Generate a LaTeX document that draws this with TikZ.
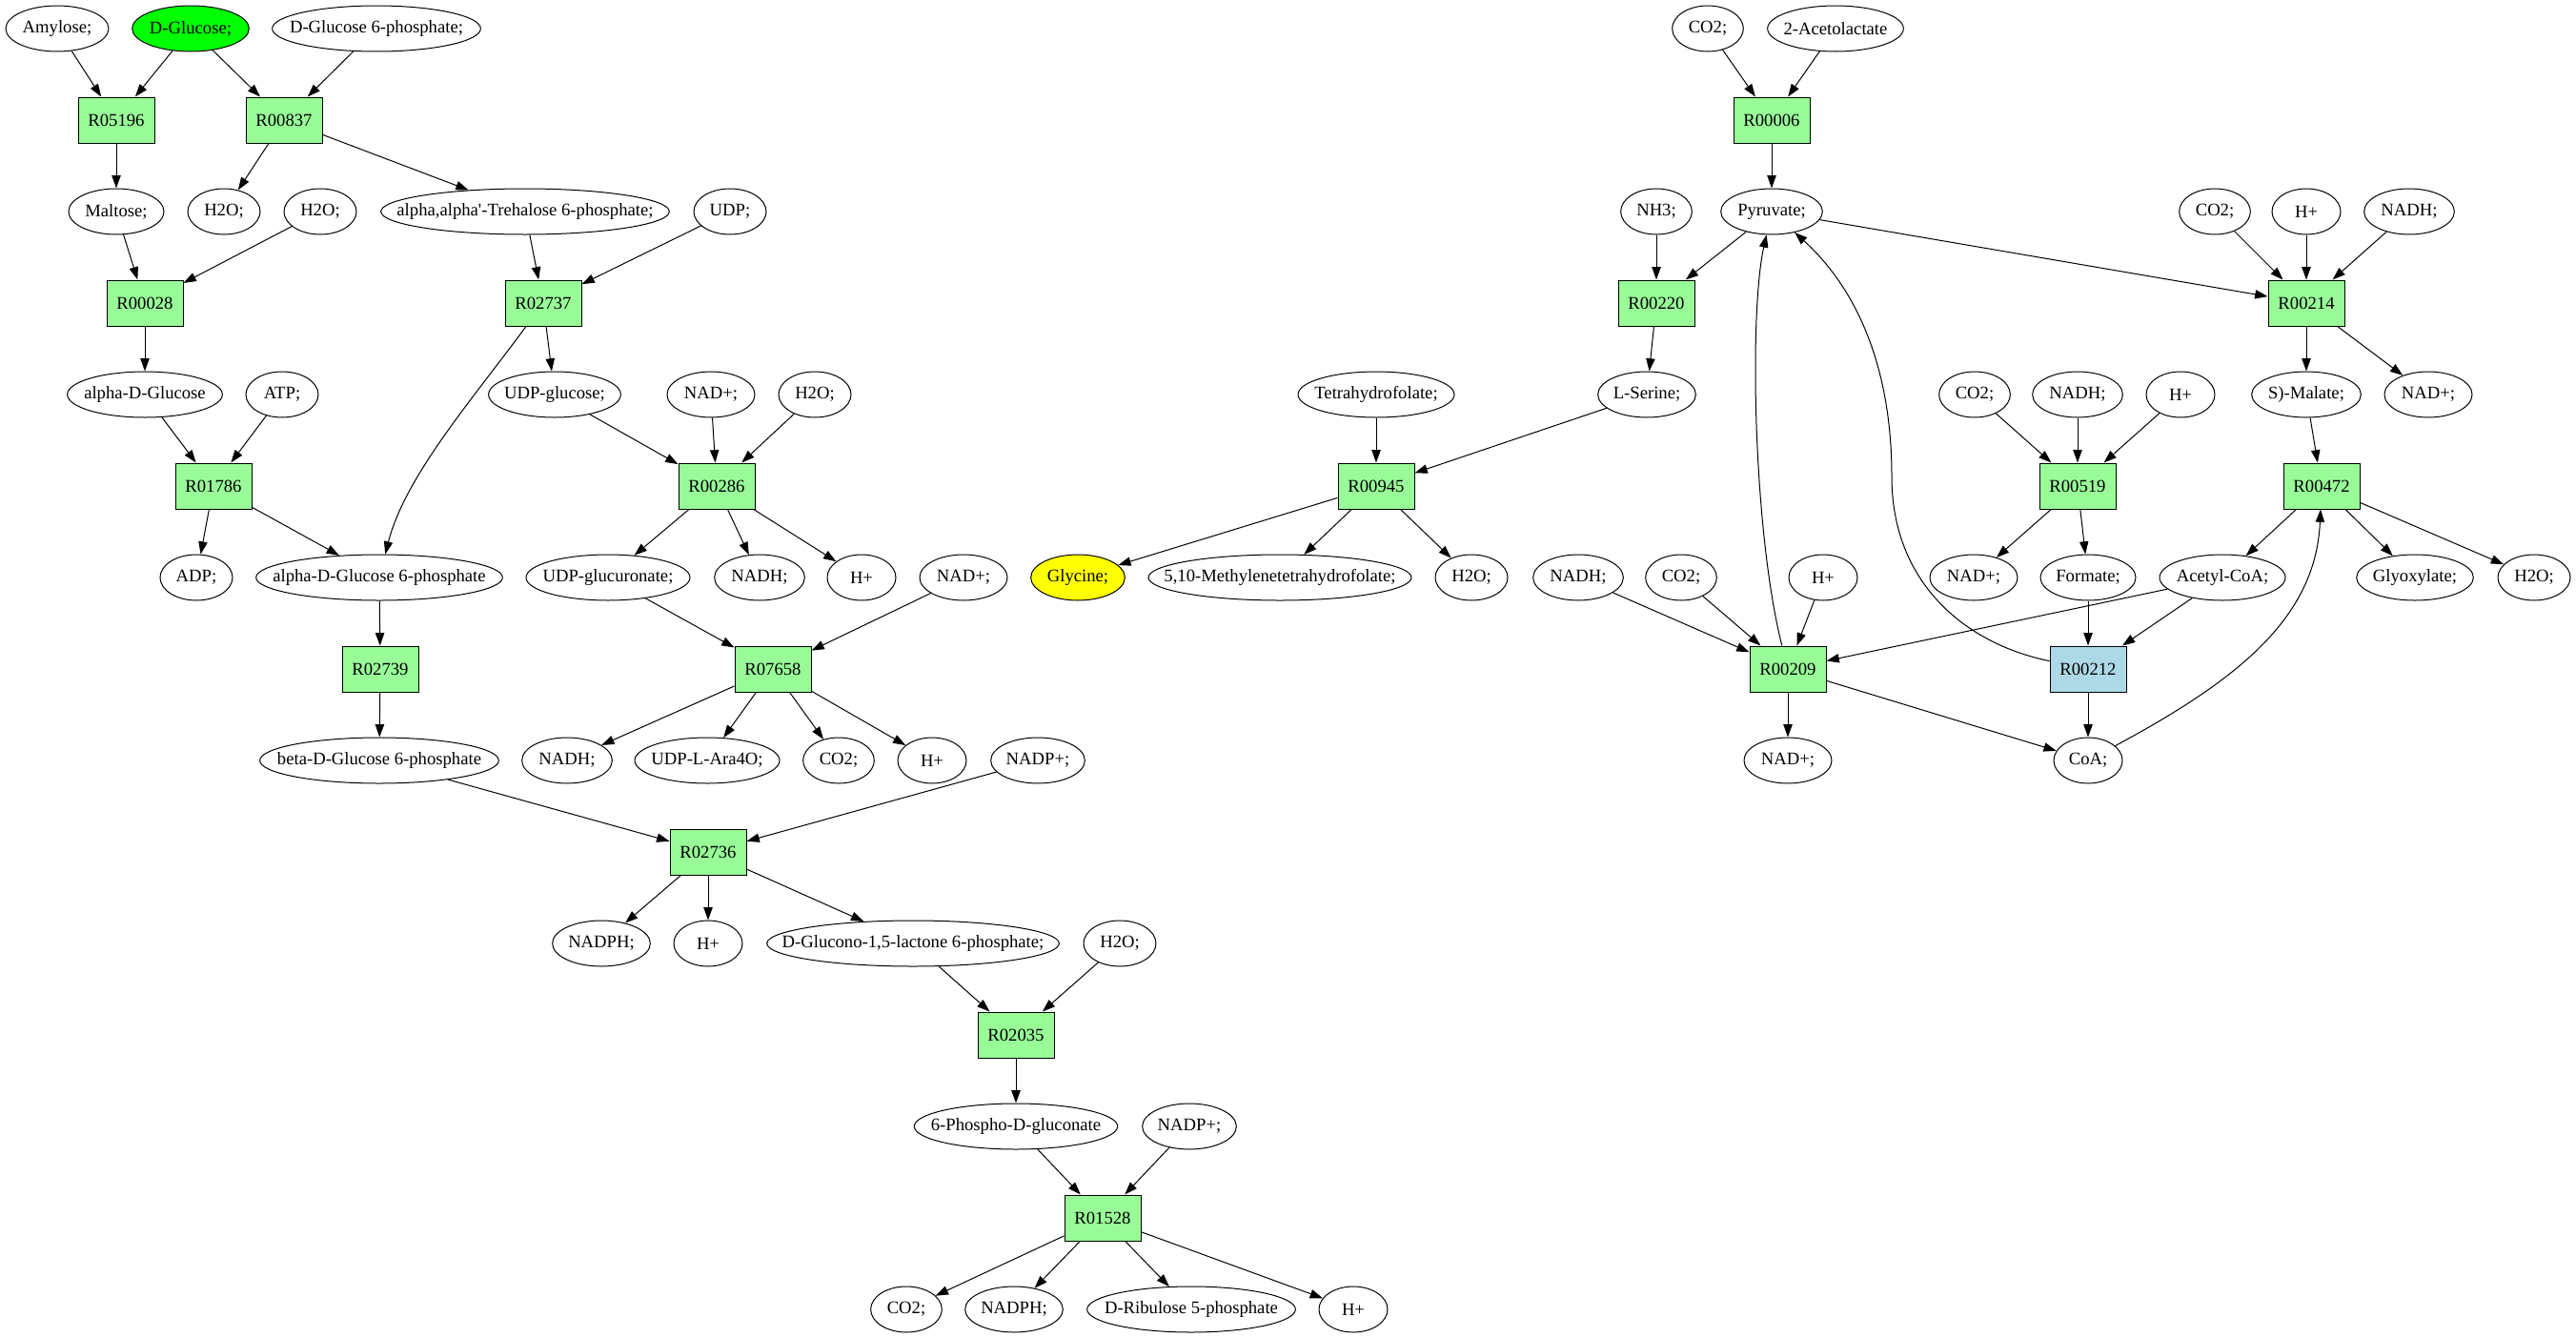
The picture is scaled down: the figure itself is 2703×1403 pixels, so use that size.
\documentclass[tikz,border=0pt]{standalone}
\usepackage{fontspec}
\setmainfont{Liberation Serif}
\usetikzlibrary{arrows.meta,shapes.geometric}

\definecolor{rxngreen}{HTML}{98FB98}
\definecolor{rxnblue}{HTML}{ADD8E6}

\begin{document}
\begin{tikzpicture}[x=0.75pt,y=-0.75pt,
  font=\fontsize{14pt}{16pt}\selectfont,
  met/.style={ellipse,draw,line width=0.75pt,minimum height=36pt,minimum width=#1,inner sep=0pt,
    execute at begin node={\hbox to 0pt\bgroup\hss},execute at end node={\hss\egroup}},
  met/.default=57pt,
  rxn/.style={rectangle,draw,line width=0.75pt,fill=rxngreen,minimum width=60pt,minimum height=36pt,inner sep=0pt},
  arr/.style={-{Triangle[length=10pt,width=7pt]},line width=0.75pt}]
  \useasboundingbox (0,0) rectangle (2703,1403);

  % glucose side
  \node[met=81pt] (amy) at (60,30) {Amylose;};
  \node[met=92pt,fill={rgb,255:red,0;green,255;blue,0}] (glc) at (200,30) {D-Glucose;};
  \node[met=164pt] (g6p) at (395,30) {D-Glucose 6-phosphate;};
  \node[rxn] (r05196) at (122,126) {R05196};
  \node[rxn] (r00837) at (298,126) {R00837};
  \node[met=75pt] (mal) at (122,222) {Maltose;};
  \node[met] (h2oa) at (235,222) {H2O;};
  \node[met] (h2ob) at (336,222) {H2O;};
  \node[met=227pt] (tre6p) at (551,222) {alpha,alpha\textquotesingle-Trehalose 6-phosphate;};
  \node[met] (udp) at (766,222) {UDP;};
  \node[rxn] (r00028) at (152,318) {R00028};
  \node[rxn] (r02737) at (570,318) {R02737};
  \node[met=122pt] (aglc) at (152,414) {alpha-D-Glucose};
  \node[met] (atp) at (296,414) {ATP;};
  \node[met=104pt] (udpg) at (582,414) {UDP-glucose;};
  \node[met=69pt] (nada) at (746,414) {NAD+;};
  \node[met] (h2oc) at (855,414) {H2O;};
  \node[rxn] (r01786) at (224,510) {R01786};
  \node[rxn] (r00286) at (752,510) {R00286};
  \node[met] (adp) at (206,606) {ADP;};
  \node[met=194pt] (ag6p) at (398,606) {alpha-D-Glucose 6-phosphate};
  \node[met=129pt] (udpga) at (638,606) {UDP-glucuronate;};
  \node[met=71pt] (nadhc) at (797,606) {NADH;};
  \node[met=54pt] (hpc) at (904,606) {H+};
  \node[met=69pt] (nadc) at (1011,606) {NAD+;};
  \node[rxn] (r02739) at (399,702) {R02739};
  \node[rxn] (r07658) at (811,702) {R07658};
  \node[met=188pt] (bg6p) at (398,798) {beta-D-Glucose 6-phosphate};
  \node[met=71pt] (nadhe) at (595,798) {NADH;};
  \node[met=114pt] (ara) at (742,798) {UDP-L-Ara4O;};
  \node[met=56pt] (co2e) at (880,798) {CO2;};
  \node[met=54pt] (hpe) at (978,798) {H+};
  \node[met=74pt] (nadpa) at (1089,798) {NADP+;};
  \node[rxn] (r02736) at (743,894) {R02736};
  \node[met=77pt] (nadpha) at (631,990) {NADPH;};
  \node[met=54pt] (hpf) at (743,990) {H+};
  \node[met=230pt] (gl6p) at (958,990) {D-Glucono-1,5-lactone 6-phosphate;};
  \node[met] (h2of) at (1175,990) {H2O;};
  \node[rxn] (r02035) at (1066,1086) {R02035};
  \node[met=160pt] (pgl) at (1066,1182) {6-Phospho-D-gluconate};
  \node[met=74pt] (nadpb) at (1248,1182) {NADP+;};
  \node[rxn] (r01528) at (1157,1278) {R01528};
  \node[met=56pt] (co2f) at (951,1374) {CO2;};
  \node[met=77pt] (nadphb) at (1064,1374) {NADPH;};
  \node[met=164pt] (ru5p) at (1250,1374) {D-Ribulose 5-phosphate};
  \node[met=54pt] (hpg) at (1420,1374) {H+};

  % pyruvate side
  \node[met=56pt] (co2a) at (1792,30) {CO2;};
  \node[met=107pt] (acl) at (1926,30) {2-Acetolactate};
  \node[rxn] (r00006) at (1859,126) {R00006};
  \node[met=56pt] (nh3) at (1738,222) {NH3;};
  \node[met=80pt] (pyr) at (1859,222) {Pyruvate;};
  \node[met=56pt] (co2b) at (2324,222) {CO2;};
  \node[met=54pt] (hpa) at (2420,222) {H+};
  \node[met=71pt] (nadha) at (2528,222) {NADH;};
  \node[rxn] (r00220) at (1738,318) {R00220};
  \node[rxn] (r00214) at (2420,318) {R00214};
  \node[met=123pt] (thf) at (1444,414) {Tetrahydrofolate;};
  \node[met=77pt] (ser) at (1728,414) {L-Serine;};
  \node[met=56pt] (co2c) at (2072,414) {CO2;};
  \node[met=71pt] (nadhb) at (2180,414) {NADH;};
  \node[met=54pt] (hpb) at (2288,414) {H+};
  \node[met=86pt] (mala) at (2420,414) {S)-Malate;};
  \node[met=69pt] (nadb) at (2548,414) {NAD+;};
  \node[rxn] (r00945) at (1444,510) {R00945};
  \node[rxn] (r00519) at (2180,510) {R00519};
  \node[rxn] (r00472) at (2436,510) {R00472};
  \node[met=74pt,fill={rgb,255:red,255;green,255;blue,0}] (gly) at (1131,606) {Glycine;};
  \node[met=207pt] (mthf) at (1343,606) {5,10-Methylenetetrahydrofolate;};
  \node[met] (h2od) at (1544,606) {H2O;};
  \node[met=71pt] (nadhd) at (1656,606) {NADH;};
  \node[met=56pt] (co2d) at (1764,606) {CO2;};
  \node[met=54pt] (hpd) at (1913,606) {H+};
  \node[met=69pt] (nadd) at (2071,606) {NAD+;};
  \node[met=75pt] (form) at (2191,606) {Formate;};
  \node[met=99pt] (accoa) at (2332,606) {Acetyl-CoA;};
  \node[met=92pt] (glx) at (2534,606) {Glyoxylate;};
  \node[met] (h2oe) at (2659,606) {H2O;};
  \node[rxn] (r00209) at (1876,702) {R00209};
  \node[rxn,fill=rxnblue] (r00212) at (2191,702) {R00212};
  \node[met=69pt] (nade) at (1876,798) {NAD+;};
  \node[met=54pt] (coa) at (2191,798) {CoA;};

  \draw[arr] (amy) -- (r05196);
  \draw[arr] (glc) -- (r05196);
  \draw[arr] (glc) -- (r00837);
  \draw[arr] (g6p) -- (r00837);
  \draw[arr] (r05196) -- (mal);
  \draw[arr] (r00837) -- (h2oa);
  \draw[arr] (r00837) -- (tre6p);
  \draw[arr] (mal) -- (r00028);
  \draw[arr] (h2ob) -- (r00028);
  \draw[arr] (tre6p) -- (r02737);
  \draw[arr] (udp) -- (r02737);
  \draw[arr] (r00028) -- (aglc);
  \draw[arr] (r02737) -- (udpg);
  \draw[arr] (r02737) .. controls (495,420) and (425,500) .. (ag6p);
  \draw[arr] (aglc) -- (r01786);
  \draw[arr] (atp) -- (r01786);
  \draw[arr] (udpg) -- (r00286);
  \draw[arr] (nada) -- (r00286);
  \draw[arr] (h2oc) -- (r00286);
  \draw[arr] (r01786) -- (adp);
  \draw[arr] (r01786) -- (ag6p);
  \draw[arr] (r00286) -- (udpga);
  \draw[arr] (r00286) -- (nadhc);
  \draw[arr] (r00286) -- (hpc);
  \draw[arr] (ag6p) -- (r02739);
  \draw[arr] (udpga) -- (r07658);
  \draw[arr] (nadc) -- (r07658);
  \draw[arr] (r02739) -- (bg6p);
  \draw[arr] (r07658) -- (nadhe);
  \draw[arr] (r07658) -- (ara);
  \draw[arr] (r07658) -- (co2e);
  \draw[arr] (r07658) -- (hpe);
  \draw[arr] (bg6p) -- (r02736);
  \draw[arr] (nadpa) -- (r02736);
  \draw[arr] (r02736) -- (nadpha);
  \draw[arr] (r02736) -- (hpf);
  \draw[arr] (r02736) -- (gl6p);
  \draw[arr] (gl6p) -- (r02035);
  \draw[arr] (h2of) -- (r02035);
  \draw[arr] (r02035) -- (pgl);
  \draw[arr] (pgl) -- (r01528);
  \draw[arr] (nadpb) -- (r01528);
  \draw[arr] (r01528) -- (co2f);
  \draw[arr] (r01528) -- (nadphb);
  \draw[arr] (r01528) -- (ru5p);
  \draw[arr] (r01528) -- (hpg);

  \draw[arr] (co2a) -- (r00006);
  \draw[arr] (acl) -- (r00006);
  \draw[arr] (r00006) -- (pyr);
  \draw[arr] (nh3) -- (r00220);
  \draw[arr] (pyr) -- (r00220);
  \draw[arr] (pyr) -- (r00214);
  \draw[arr] (co2b) -- (r00214);
  \draw[arr] (hpa) -- (r00214);
  \draw[arr] (nadha) -- (r00214);
  \draw[arr] (r00220) -- (ser);
  \draw[arr] (r00214) -- (mala);
  \draw[arr] (r00214) -- (nadb);
  \draw[arr] (thf) -- (r00945);
  \draw[arr] (ser) -- (r00945);
  \draw[arr] (co2c) -- (r00519);
  \draw[arr] (nadhb) -- (r00519);
  \draw[arr] (hpb) -- (r00519);
  \draw[arr] (mala) -- (r00472);
  \draw[arr] (r00945) -- (gly);
  \draw[arr] (r00945) -- (mthf);
  \draw[arr] (r00945) -- (h2od);
  \draw[arr] (r00519) -- (nadd);
  \draw[arr] (r00519) -- (form);
  \draw[arr] (r00472) -- (accoa);
  \draw[arr] (r00472) -- (glx);
  \draw[arr] (r00472) -- (h2oe);
  \draw[arr] (nadhd) -- (r00209);
  \draw[arr] (co2d) -- (r00209);
  \draw[arr] (hpd) -- (r00209);
  \draw[arr] (accoa) -- (r00209);
  \draw[arr] (form) -- (r00212);
  \draw[arr] (accoa) -- (r00212);
  \draw[arr] (r00209) .. controls (1840,560) and (1835,330) .. (pyr);
  \draw[arr] (r00212) .. controls (2060,675) and (1985,610) .. (1985,500)
    .. controls (1985,380) and (1945,300) .. (pyr);
  \draw[arr] (r00209) -- (nade);
  \draw[arr] (r00209) -- (coa);
  \draw[arr] (r00212) -- (coa);
  \draw[arr] (coa) .. controls (2345,715) and (2430,650) .. (r00472);
\end{tikzpicture}
\end{document}
